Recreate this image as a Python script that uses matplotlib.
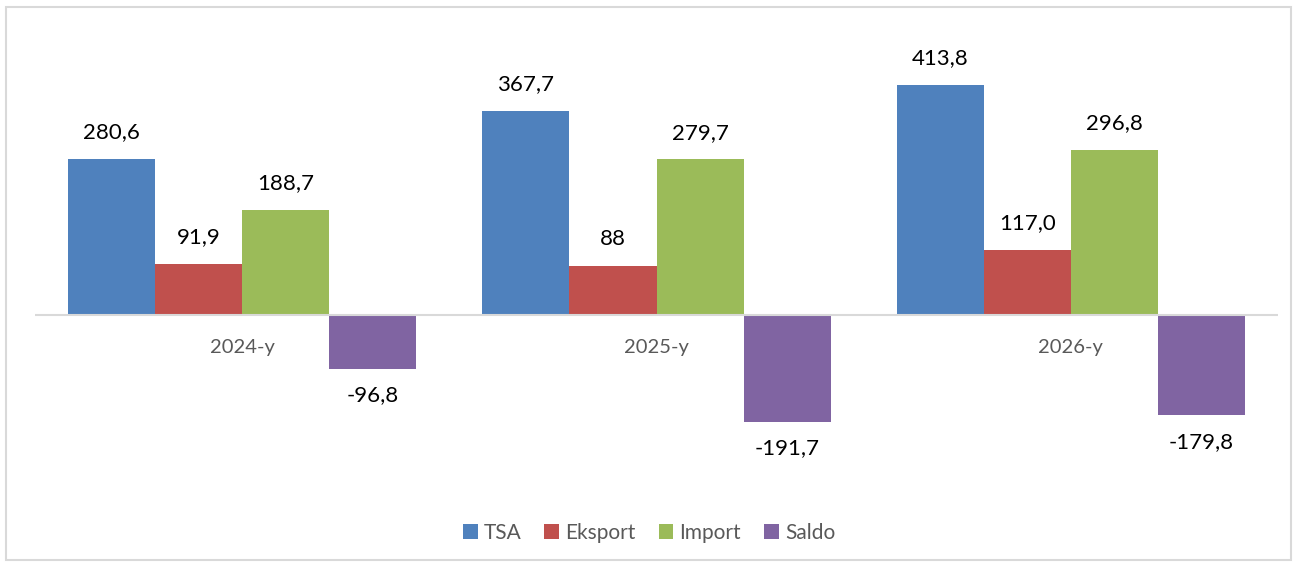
import matplotlib.pyplot as plt
from matplotlib.patches import Rectangle
import numpy as np

years = ["2024-y", "2025-y", "2026-y"]
series = ["TSA", "Eksport", "Import", "Saldo"]
tsa = [280.6, 367.7, 413.8]
eksport = [91.9, 88, 117.0]
import_ = [188.7, 279.7, 296.8]
saldo = [-96.8, -191.7, -179.8]
labels = [
    ["280,6", "367,7", "413,8"],
    ["91,9", "88", "117,0"],
    ["188,7", "279,7", "296,8"],
    ["-96,8", "-191,7", "-179,8"],
]
colors = ["#4F81BD", "#C0504D", "#9BBB59", "#8064A2"]

plt.rcParams['font.family'] = ['Lato', 'DejaVu Sans']

fig = plt.figure(figsize=(12.98, 5.67), dpi=100)
ax = fig.add_axes([35 / 1298, 1 - 480 / 567, 1243 / 1298, 460 / 567])

# frame around the chart
fig.patches.append(Rectangle((6 / 1298, 1 - 560 / 567), 1285 / 1298, 553 / 567,
                             transform=fig.transFigure, fill=False,
                             edgecolor="#D9D9D9", linewidth=1.5))

x = np.arange(len(years))
w = 0.21
data = [tsa, eksport, import_, saldo]
for i, (vals, name) in enumerate(zip(data, series)):
    pos = x + (i - 1.5) * w
    ax.bar(pos, vals, w, color=colors[i], label=name)
    for p, v, t in zip(pos, vals, labels[i]):
        if v >= 0:
            ax.annotate(t, (p, v), xytext=(0, 12), textcoords="offset points",
                        ha="center", va="bottom", fontsize=16, color="black")
        else:
            ax.annotate(t, (p, v), xytext=(0, -12), textcoords="offset points",
                        ha="center", va="top", fontsize=16, color="black")

for xi, yr in zip(x, years):
    ax.text(xi, -58, yr, ha="center", va="center", fontsize=14.5, color="#595959")

ax.axhline(0, color="#D9D9D9", linewidth=1.5)
ax.set_xlim(-0.5, 2.5)
ax.set_ylim(-296.8, 530.6)
ax.axis("off")

leg = fig.legend(loc="center", bbox_to_anchor=(0.5, 1 - 533 / 567), ncol=4,
                 frameon=False, fontsize=15, handlelength=0.7, handleheight=0.7,
                 handletextpad=0.3, columnspacing=1.1)
for t in leg.get_texts():
    t.set_color("#595959")

fig.savefig("out.png", dpi=100)
